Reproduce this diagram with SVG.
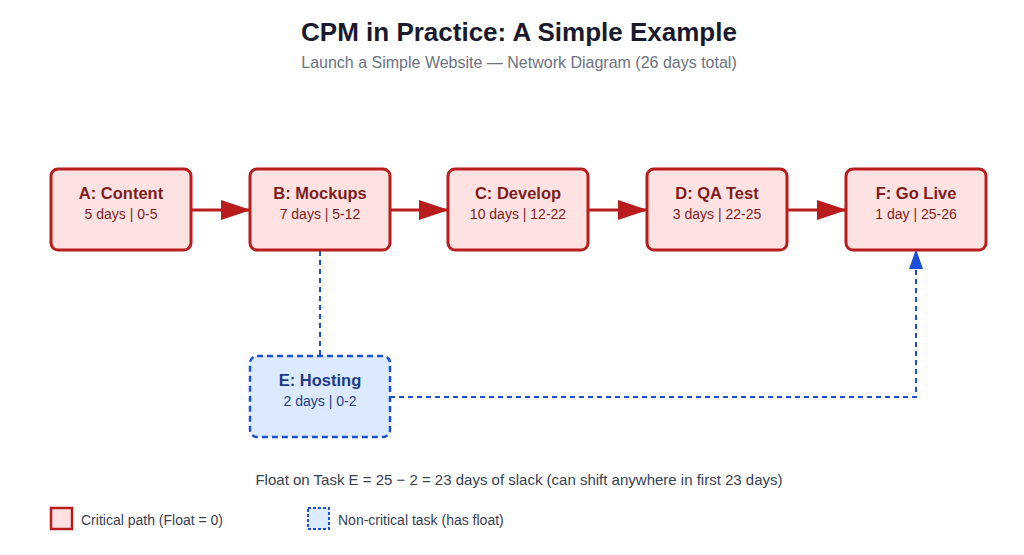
<svg xmlns="http://www.w3.org/2000/svg" width="1024" height="555" viewBox="0 0 1024 555">
  <defs>
    <marker id="arrow-red" viewBox="0 0 30 20" refX="29" refY="10" markerWidth="30" markerHeight="20" markerUnits="userSpaceOnUse" orient="auto">
      <path d="M0,0 L30,10 L0,20 Z" fill="#b91c1c"/>
    </marker>
    <style>
      text { font-family: "Liberation Sans", Arial, sans-serif; }
      .title { font-size: 26px; font-weight: bold; fill: #1a1a2e; }
      .subtitle { font-size: 16px; fill: #6b7280; }
      .crit rect { fill: #fee2e2; stroke: #b91c1c; stroke-width: 3; }
      .crit .name { font-size: 16.5px; font-weight: bold; fill: #7f1d1d; }
      .crit .info { font-size: 14px; fill: #7f1d1d; }
      .noncrit rect { fill: #dbeafe; stroke: #1d4ed8; stroke-width: 2.5; stroke-dasharray: 6 4; }
      .noncrit .name { font-size: 16.5px; font-weight: bold; fill: #1e3a8a; }
      .noncrit .info { font-size: 14px; fill: #1e3a8a; }
      .edge-crit { stroke: #b91c1c; stroke-width: 3; fill: none; }
      .edge-float { stroke: #1d4ed8; stroke-width: 2; fill: none; stroke-dasharray: 5 4; }
      .note { font-size: 15px; fill: #374151; }
      .legend { font-size: 14px; fill: #374151; }
    </style>
  </defs>

  <rect width="1024" height="555" fill="#ffffff"/>

  <text class="title" x="519" y="41" text-anchor="middle">CPM in Practice: A Simple Example</text>
  <text class="subtitle" x="519" y="68" text-anchor="middle">Launch a Simple Website — Network Diagram (26 days total)</text>

  <!-- connectors -->
  <g id="connectors">
    <line class="edge-crit" x1="191" y1="210" x2="250" y2="210" marker-end="url(#arrow-red)"/>
    <line class="edge-crit" x1="390" y1="210" x2="448" y2="210" marker-end="url(#arrow-red)"/>
    <line class="edge-crit" x1="588" y1="210" x2="647" y2="210" marker-end="url(#arrow-red)"/>
    <line class="edge-crit" x1="787" y1="210" x2="846" y2="210" marker-end="url(#arrow-red)"/>
    <line class="edge-float" x1="320" y1="251" x2="320" y2="356"/>
    <polyline class="edge-float" points="390,397 916,397 916,269"/>
    <path d="M909,269 L916,249 L923,269 Z" fill="#1d4ed8"/>
  </g>

  <g id="node-a" class="crit">
    <rect x="51" y="169" width="140" height="81" rx="7"/>
    <text class="name" x="121" y="199" text-anchor="middle">A: Content</text>
    <text class="info" x="121" y="219" text-anchor="middle">5 days | 0-5</text>
  </g>
  <g id="node-b" class="crit">
    <rect x="250" y="169" width="140" height="81" rx="7"/>
    <text class="name" x="320" y="199" text-anchor="middle">B: Mockups</text>
    <text class="info" x="320" y="219" text-anchor="middle">7 days | 5-12</text>
  </g>
  <g id="node-c" class="crit">
    <rect x="448" y="169" width="140" height="81" rx="7"/>
    <text class="name" x="518" y="199" text-anchor="middle">C: Develop</text>
    <text class="info" x="518" y="219" text-anchor="middle">10 days | 12-22</text>
  </g>
  <g id="node-d" class="crit">
    <rect x="647" y="169" width="140" height="81" rx="7"/>
    <text class="name" x="717" y="199" text-anchor="middle">D: QA Test</text>
    <text class="info" x="717" y="219" text-anchor="middle">3 days | 22-25</text>
  </g>
  <g id="node-f" class="crit">
    <rect x="846" y="169" width="140" height="81" rx="7"/>
    <text class="name" x="916" y="199" text-anchor="middle">F: Go Live</text>
    <text class="info" x="916" y="219" text-anchor="middle">1 day | 25-26</text>
  </g>
  <g id="node-e" class="noncrit">
    <rect x="250" y="356" width="140" height="81" rx="7"/>
    <text class="name" x="320" y="386" text-anchor="middle">E: Hosting</text>
    <text class="info" x="320" y="406" text-anchor="middle">2 days | 0-2</text>
  </g>

  <text class="note" x="519" y="485" text-anchor="middle">Float on Task E = 25 − 2 = 23 days of slack (can shift anywhere in first 23 days)</text>

  <g id="legend">
    <rect x="51" y="508" width="21" height="21" fill="#fee2e2" stroke="#b91c1c" stroke-width="2.5"/>
    <text class="legend" x="81" y="525">Critical path (Float = 0)</text>
    <rect x="308" y="508" width="21" height="21" fill="#dbeafe" stroke="#1d4ed8" stroke-width="2" stroke-dasharray="3 2"/>
    <text class="legend" x="338" y="525">Non-critical task (has float)</text>
  </g>
</svg>
